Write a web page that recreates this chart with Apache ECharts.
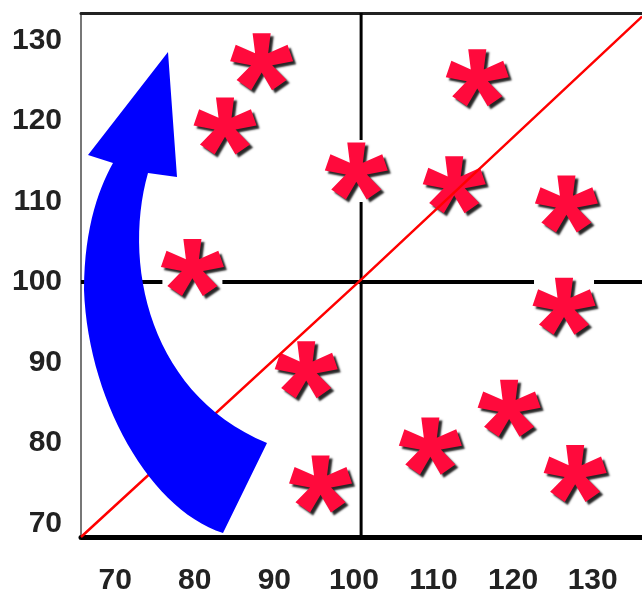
<!DOCTYPE html>
<html>
<head>
<meta charset="utf-8">
<script src="https://cdn.jsdelivr.net/npm/echarts@6/dist/echarts.min.js"></script>
<style>
  html, body { margin: 0; padding: 0; background: #fff; }
  #chart { width: 642px; height: 596px; }
</style>
</head>
<body>
<div id="chart"></div>
<script>
// tick labels
const xTicks = [70, 80, 90, 100, 110, 120, 130];
const yTicks = [70, 80, 90, 100, 110, 120, 130];

// points (asterisks)
const pointX = [88.4, 83.8, 100.3, 115.5, 112.6, 126.7, 79.7, 126.4, 94.0, 119.5, 109.6, 127.8, 95.8];
const pointY = [127.4, 119.4, 113.8, 125.4, 112.1, 109.7, 101.8, 97.0, 89.1, 84.3, 79.6, 76.2, 74.9];

// quadrant cross and the diagonal line
const crossX = 100.9;
const crossY = 100;
const diagX = [65.7, 100.8, 136.2];
const diagY = [68.3, 100.2, 133.0];

const xRange = [65.7, 136.2];
const yRange = [68.3, 133.45];

const points = pointX.map((x, i) => [x, pointY[i]]);
const diag = diagX.map((x, i) => [x, diagY[i]]);

// 5 armed asterisk shape
function starPath() {
  const L = 30, b = 9, rin = 11;
  const pts = [];
  for (let k = 0; k < 5; k++) {
    const th = k * 72 * Math.PI / 180;
    const ti = th - 36 * Math.PI / 180;
    pts.push([rin * Math.sin(ti), -rin * Math.cos(ti)]);
    const dx = Math.sin(th), dy = -Math.cos(th);
    const px = Math.cos(th), py = Math.sin(th);
    pts.push([L * dx - b * px, L * dy - b * py]);
    pts.push([L * dx + b * px, L * dy + b * py]);
  }
  return 'path://M' + pts.map(p => p[0].toFixed(2) + ' ' + p[1].toFixed(2)).join(' L') + ' Z';
}
const starSymbol = starPath();

// blue curved arrow, sampled from bezier pieces
function bez(p0, p1, p2, p3, n) {
  const out = [];
  for (let i = 1; i <= n; i++) {
    const t = i / n, u = 1 - t;
    out.push([
      u * u * u * p0[0] + 3 * u * u * t * p1[0] + 3 * u * t * t * p2[0] + t * t * t * p3[0],
      u * u * u * p0[1] + 3 * u * u * t * p1[1] + 3 * u * t * t * p2[1] + t * t * t * p3[1]
    ]);
  }
  return out;
}
function arrowPoints() {
  let pts = [[168, 52], [177, 177], [148, 173]];
  pts = pts.concat(bez([148, 173], [122, 265], [150, 395], [267, 443], 30));
  pts.push([223, 533]);
  pts = pts.concat(bez([223, 533], [150, 510], [88, 400], [84, 290], 30));
  pts = pts.concat(bez([84, 290], [84, 230], [98, 190], [113, 163], 15));
  pts.push([88, 155]);
  return pts;
}

const labelStyle = {
  fontSize: 30,
  fontWeight: 'bold',
  fontFamily: "'Liberation Sans', Arial, sans-serif",
  color: '#222'
};

const chart = echarts.init(document.getElementById('chart'), null, { renderer: 'canvas' });
chart.setOption({
  animation: false,
  backgroundColor: '#fff',
  grid: { left: 81, right: 0, top: 13, bottom: 55 },
  xAxis: [
    {
      type: 'value',
      min: xRange[0],
      max: xRange[1],
      position: 'bottom',
      axisLine: { show: true, onZero: false, lineStyle: { color: '#000', width: 5 } },
      axisTick: { show: false },
      splitLine: { show: false },
      axisLabel: Object.assign({ customValues: xTicks, margin: 29 }, labelStyle)
    },
    {
      // top border
      type: 'value',
      min: xRange[0],
      max: xRange[1],
      position: 'top',
      axisLine: { show: true, onZero: false, lineStyle: { color: '#222', width: 3 } },
      axisTick: { show: false },
      axisLabel: { show: false },
      splitLine: { show: false }
    }
  ],
  yAxis: {
    type: 'value',
    min: yRange[0],
    max: yRange[1],
    axisLine: { show: true, onZero: false, lineStyle: { color: '#777', width: 2 } },
    axisTick: { show: false },
    splitLine: { show: false },
    axisLabel: Object.assign({ customValues: yTicks, margin: 19 }, labelStyle)
  },
  series: [
    {
      // vertical line of the cross
      type: 'line',
      data: [[crossX, yRange[0]], [crossX, yRange[1]]],
      zlevel: 0,
      z: 1,
      silent: true,
      showSymbol: false,
      lineStyle: { color: '#000', width: 3 }
    },
    {
      // horizontal line of the cross
      type: 'line',
      data: [[xRange[0], crossY], [xRange[1], crossY]],
      zlevel: 0,
      z: 1,
      silent: true,
      showSymbol: false,
      lineStyle: { color: '#000', width: 4 }
    },
    {
      // white box behind each asterisk, hides the cross lines
      type: 'scatter',
      data: points,
      symbol: 'rect',
      symbolSize: [60, 62],
      zlevel: 1,
      z: 2,
      silent: true,
      itemStyle: { color: '#fff', opacity: 1 }
    },
    {
      type: 'scatter',
      data: points,
      symbol: starSymbol,
      symbolSize: [63, 60],
      symbolKeepAspect: true,
      zlevel: 1,
      z: 3,
      itemStyle: {
        color: '#ff0a3c',
        opacity: 1,
        shadowColor: 'rgba(0,0,0,0.85)',
        shadowBlur: 2,
        shadowOffsetX: 3,
        shadowOffsetY: 3
      }
    },
    {
      type: 'line',
      data: diag,
      zlevel: 2,
      z: 4,
      showSymbol: false,
      silent: true,
      lineStyle: { color: '#ff0000', width: 2.5 }
    }
  ],
  graphic: [
    {
      type: 'polygon',
      zlevel: 3,
      z: 100,
      silent: true,
      shape: { points: arrowPoints() },
      style: { fill: '#0000ff' }
    }
  ]
});
</script>
</body>
</html>
